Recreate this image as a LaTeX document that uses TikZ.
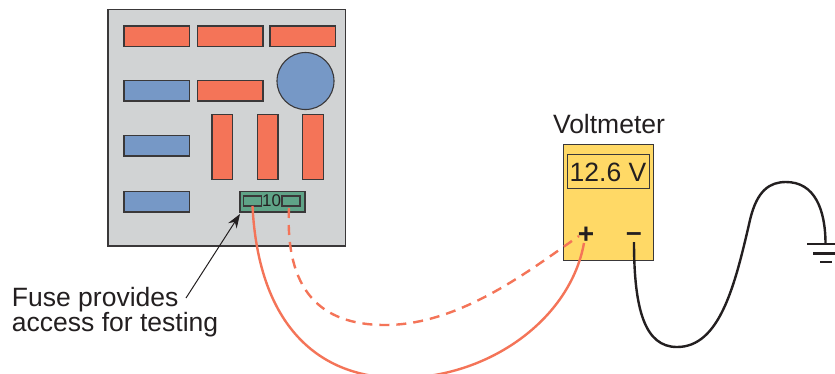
\documentclass[tikz,border=0pt]{standalone}
\usepackage{fontspec}
\setmainfont{Liberation Sans}
\usetikzlibrary{arrows.meta}
\definecolor{inkc}{HTML}{231F20}
\definecolor{boardc}{HTML}{D1D3D4}
\definecolor{redc}{HTML}{F47458}
\definecolor{bluec}{HTML}{7698C6}
\definecolor{greenc}{HTML}{5FA387}
\definecolor{yellowc}{HTML}{FFD966}
\definecolor{edgec}{HTML}{3A3839}
\tikzset{
  part/.style={draw=edgec,line width=1.1pt,rectangle,inner sep=0pt,outer sep=0pt},
  redh/.style={part,fill=redc,minimum width=65.5pt,minimum height=20.5pt},
  blueh/.style={part,fill=bluec,minimum width=65.5pt,minimum height=20.5pt},
  redv/.style={part,fill=redc,minimum width=20.5pt,minimum height=65pt},
  term/.style={part,fill=greenc,minimum width=18pt,minimum height=10pt},
  label/.style={inner sep=0pt,outer sep=0pt,text=inkc,font=\fontsize{26.5}{26.5}\selectfont},
  redwire/.style={draw=redc,line width=2.4pt},
  blackwire/.style={draw=inkc,line width=2.4pt},
}
\begin{document}
\begin{tikzpicture}[x=1pt,y=-1pt]
\clip (0,0) rectangle (835,373);
\fill[white] (0,0) rectangle (835,373);
\node[part,fill=boardc,minimum width=237.5pt,minimum height=236.5pt] (board) at (226.75,127.75) {};
\node[redh] (r1) at (156.75,36.25) {};
\node[redh] (r2) at (230.25,36.25) {};
\node[redh] (r3) at (302.75,36.25) {};
\node[blueh] (b1) at (156.75,90.75) {};
\node[redh] (r4) at (230.25,90.75) {};
\node[part,circle,fill=bluec,minimum size=57pt] (disc) at (305.5,81) {};
\node[redv] (v1) at (222.25,147) {};
\node[redv] (v2) at (267.75,147) {};
\node[redv] (v3) at (313,147) {};
\node[blueh] (b2) at (156.75,145.75) {};
\node[blueh] (b3) at (156.75,201.75) {};
\node[part,fill=greenc,minimum width=65pt,minimum height=20.5pt] (fuse) at (272.5,201.75) {};
\node[term] (t1) at (252.5,201) {};
\node[term] (t2) at (291,201) {};
\node[inner sep=0pt,text=inkc,font=\fontsize{17}{17}\selectfont] (fuseval) at (271.5,201) {10};
% voltmeter
\node[draw=edgec,line width=1pt,fill=yellowc,minimum width=90pt,minimum height=115.5pt,inner sep=0pt,outer sep=0pt] (meter) at (608,202.25) {};
\node[draw=edgec,line width=1pt,minimum width=82pt,minimum height=34pt,inner sep=0pt,outer sep=0pt] (display) at (608.5,171.5) {};
\node[label] (reading) at (608,172.5) {12.6 V};
\node[label,anchor=base] (vname) at (609,133) {Voltmeter};
\node[label,anchor=center,font=\fontsize{28}{28}\selectfont\bfseries] (plus) at (586,235) {+};
\node[label,anchor=center,font=\fontsize{28}{28}\selectfont\bfseries] (minus) at (634,237) {–};
% callout
\node[label,anchor=base west] (note1) at (12,306) {Fuse provides};
\node[label,anchor=base west] (note2) at (12,331) {access for testing};
\coordinate (notept) at (186,298);
\coordinate (fusept) at (240,214);
\draw[draw=inkc,line width=1pt,-{Stealth[length=14pt,width=10pt]}] (notept) -- (fusept);
% wires
\coordinate (solidA) at (t1.south);
\coordinate (solidB) at (584,243);
\coordinate (dashA) at (289,208);
\coordinate (dashB) at (579,236);
\coordinate (blackA) at (634,242);
\coordinate (gnd) at (825.5,244);
\draw[redwire] (solidA) .. controls (258,318) and (312,378) .. (400,378) .. controls (488,378) and (570,320) .. (solidB);
\draw[redwire,dash pattern=on 10pt off 7pt] (dashA) .. controls (285,290) and (320,325) .. (385,325) .. controls (460,325) and (530,270) .. (dashB);
\draw[blackwire] (blackA) .. controls (634,310) and (645,347) .. (677,347) .. controls (720,347) and (735,285) .. (750,220) .. controls (757,190) and (770,182) .. (786,182) .. controls (815,182) and (825.5,210) .. (gnd);
\draw[blackwire] (807,244) -- (844,244);
\draw[blackwire] (813,253.5) -- (838,253.5);
\draw[blackwire] (820,262) -- (832,262);
\end{tikzpicture}
\end{document}
